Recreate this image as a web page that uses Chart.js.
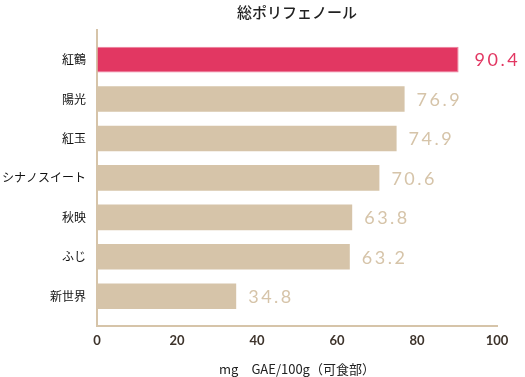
<!DOCTYPE html>
<html>
<head>
<meta charset="utf-8">
<script src="https://cdn.jsdelivr.net/npm/chart.js@4.4.1/dist/chart.umd.min.js"></script>
<style>
  html, body { margin: 0; padding: 0; background: #fff; }
  #wrap { width: 525px; height: 377px; }
</style>
</head>
<body>
<div id="wrap"><canvas id="polyChart"></canvas></div>
<script>
// apple varieties and total polyphenol (mg GAE / 100g edible part)
var varieties = ['紅鶴', '陽光', '紅玉', 'シナノスイート', '秋映', 'ふじ', '新世界'];
var polyphenol = [90.4, 76.9, 74.9, 70.6, 63.8, 63.2, 34.8];
var xTicks = [0, 20, 40, 60, 80, 100];
var highlightName = '紅鶴';

var pink = '#e23762';
var pinkEdge = '#ec7f9b';
var beige = '#d6c4a9';

function isHighlight(i) {
    return varieties[i] == highlightName;
}

// writes the value next to the end of each bar
var valueLabels = {
    id: 'valueLabels',
    afterDatasetsDraw: function (chart) {
        var ctx = chart.ctx;
        var meta = chart.getDatasetMeta(0);
        ctx.save();
        ctx.font = '18px Lato';
        ctx.letterSpacing = '2.5px';
        ctx.textAlign = 'left';
        ctx.textBaseline = 'middle';
        meta.data.forEach(function (bar, i) {
            ctx.fillStyle = isHighlight(i) ? pink : beige;
            ctx.fillText(polyphenol[i].toFixed(1), bar.x + (isHighlight(i) ? 16 : 12), bar.y + 1);
        });
        ctx.restore();
    }
};

// don't let tick label overhang push the plot area around
function noOverhang(axis) {
    axis.paddingTop = 0;
    axis.paddingBottom = 0;
    axis.paddingLeft = 0;
    axis.paddingRight = 0;
}

var points = polyphenol.map(function (v, i) { return { x: v, y: i }; });

new Chart(document.getElementById('polyChart'), {
    type: 'bar',
    data: {
        datasets: [{
            data: points,
            backgroundColor: function (c) { return isHighlight(c.dataIndex) ? pink : beige; },
            borderColor: function (c) { return isHighlight(c.dataIndex) ? pinkEdge : beige; },
            borderWidth: function (c) { return isHighlight(c.dataIndex) ? 1 : 0; },
            categoryPercentage: 1,
            barPercentage: 0.65
        }]
    },
    options: {
        indexAxis: 'y',
        responsive: true,
        maintainAspectRatio: false,
        animation: false,
        layout: { padding: { top: 3, right: 28, left: 2, bottom: 0 } },
        plugins: {
            legend: { display: false },
            tooltip: { enabled: false },
            title: {
                display: true,
                text: '総ポリフェノール',
                fullSize: false,
                color: '#222',
                font: { family: 'Noto Sans CJK JP', size: 15, weight: '500' },
                padding: { top: 0, bottom: 9 }
            }
        },
        scales: {
            x: {
                type: 'linear',
                min: xTicks[0],
                max: xTicks[xTicks.length - 1],
                afterBuildTicks: function (axis) {
                    axis.ticks = xTicks.map(function (v) { return { value: v }; });
                },
                afterFit: noOverhang,
                grid: { drawOnChartArea: false, drawTicks: false },
                border: { color: beige, width: 2 },
                ticks: {
                    color: '#3d332b',
                    padding: 7,
                    font: { family: 'Lato', size: 13, weight: 'bold' }
                },
                title: {
                    display: true,
                    text: 'mg　GAE/100g（可食部）',
                    color: '#222',
                    font: { family: 'Noto Sans CJK JP', size: 13 },
                    padding: { top: 6, bottom: 0 }
                }
            },
            y: {
                type: 'linear',
                reverse: true,
                offset: false,
                min: -0.75,
                max: varieties.length - 0.25,
                afterBuildTicks: function (axis) {
                    axis.ticks = varieties.map(function (v, i) { return { value: i }; });
                },
                afterFit: function (axis) {
                    noOverhang(axis);
                    axis.width = 95;
                },
                grid: { drawOnChartArea: false, drawTicks: false },
                border: { color: beige, width: 2 },
                ticks: {
                    color: '#111',
                    padding: 11,
                    font: { family: 'Noto Sans CJK JP', size: 12 },
                    callback: function (value) { return varieties[value]; }
                }
            }
        }
    },
    plugins: [valueLabels]
});
</script>
</body>
</html>
